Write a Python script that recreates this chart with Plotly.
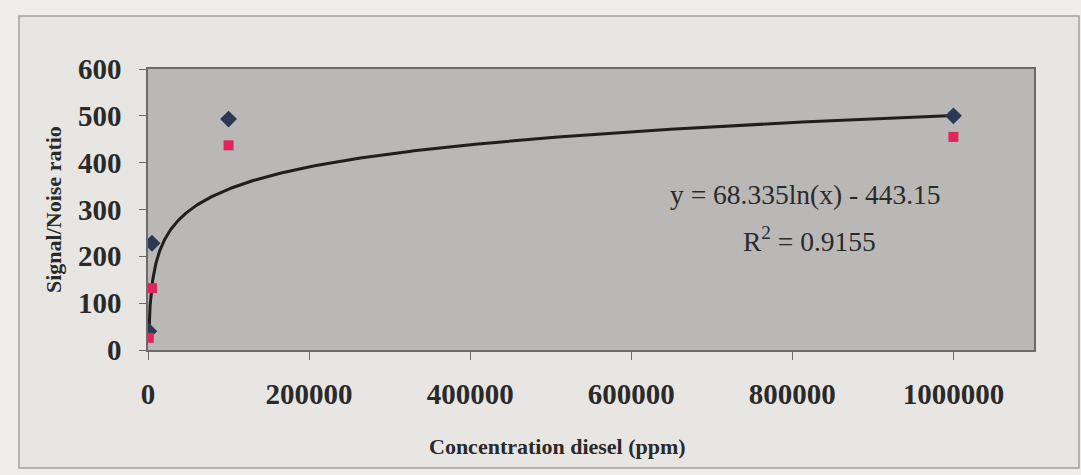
import numpy as np
import plotly.graph_objects as go

# ---- data ----
conc_ppm = [1000, 5000, 100000, 1000000]
series_a = [40, 228, 493, 500]     # dark diamonds
series_b = [26, 132, 437, 455]     # pink squares
fit_slope = 68.335
fit_intercept = -443.15
fit_r2 = 0.9155
x_ticks = [0, 200000, 400000, 600000, 800000, 1000000]
y_ticks = [0, 100, 200, 300, 400, 500, 600]

# trendline from the displayed equation
tx = np.geomspace(conc_ppm[0], conc_ppm[-1], 400)
ty = fit_slope * np.log(tx) + fit_intercept

serif = "Liberation Serif"

fig = go.Figure()
fig.add_trace(go.Scatter(x=tx, y=ty, mode="lines",
                         line=dict(color="#1f1f1f", width=3),
                         showlegend=False, hoverinfo="skip"))
fig.add_trace(go.Scatter(x=conc_ppm, y=series_a, mode="markers",
                         marker=dict(symbol="diamond", size=13, color="#2b3a52"),
                         showlegend=False))
fig.add_trace(go.Scatter(x=conc_ppm, y=series_b, mode="markers",
                         marker=dict(symbol="square", size=10, color="#e0245c"),
                         showlegend=False))

W, H = 1081, 475
L, R, T, B = 148, 47, 69, 125
pw, ph = W - L - R, H - T - B

def px_x(p):
    return (p - L) / pw

def px_y(p):
    return (H - B - p) / ph

shapes = [
    # outer frame
    dict(type="rect", xref="paper", yref="paper", layer="below",
         x0=px_x(19), x1=px_x(1079), y0=px_y(468), y1=px_y(16),
         fillcolor="#e8e6e3", line=dict(color="#a3a19e", width=1.5)),
    # plot area
    dict(type="rect", xref="paper", yref="paper", layer="below",
         x0=0, x1=1, y0=0, y1=1,
         fillcolor="#b9b8b6", line=dict(width=0)),
]

def ann(text, x, y, size, angle=0):
    return dict(text=text, x=px_x(x), y=px_y(y), xref="paper", yref="paper",
                xanchor="center", yanchor="middle", showarrow=False, textangle=angle,
                font=dict(family=serif, size=size, color="#2a2a2a"))

annotations = [
    ann(f"y = {fit_slope}ln(x) - {abs(fit_intercept)}", 805, 194, 27.5),
    ann(f"R<sup>2</sup> = {fit_r2}", 809, 240, 27.5),
    ann("<b>Signal/Noise ratio</b>", 53, 210, 22, -90),
    ann("<b>Concentration diesel (ppm)</b>", 557, 447, 22),
]

fig.update_layout(
    width=W, height=H,
    margin=dict(l=L, r=R, t=T, b=B, pad=0),
    paper_bgcolor="#efeeec",
    plot_bgcolor="rgba(0,0,0,0)",
    shapes=shapes,
    annotations=annotations,
    showlegend=False,
)
fig.update_xaxes(range=[0, 1100000], tickvals=x_ticks, ticktext=[str(v) for v in x_ticks],
                 ticks="outside", ticklen=8, tickcolor="#6b6b6b", tickwidth=1,
                 showline=True, linecolor="#6b6b6b", linewidth=1.5, mirror=True,
                 showgrid=False, zeroline=False,
                 tickfont=dict(family=serif, size=29, color="#2a2a2a", weight="bold"),
                 ticklabelstandoff=9)
fig.update_yaxes(range=[0, 600], tickvals=y_ticks,
                 ticks="outside", ticklen=7, tickcolor="#6b6b6b", tickwidth=1,
                 showline=True, linecolor="#6b6b6b", linewidth=1.5, mirror=True,
                 showgrid=False, zeroline=False,
                 tickfont=dict(family=serif, size=29, color="#2a2a2a", weight="bold"),
                 ticklabelstandoff=12)

fig.write_html("out.html")
